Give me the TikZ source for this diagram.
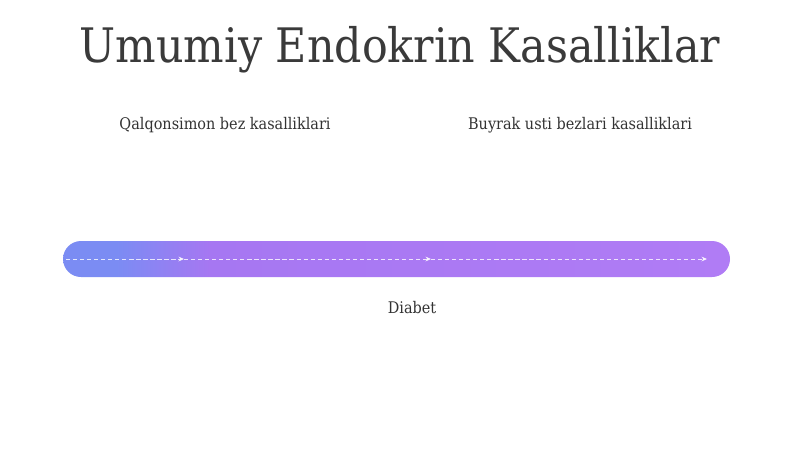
\documentclass[tikz,border=0pt]{standalone}
\usepackage{fontspec}
\setmainfont{DejaVu Serif Condensed}
\usetikzlibrary{arrows.meta}
\definecolor{barblue}{HTML}{7B8CF3}
\definecolor{barviolet}{HTML}{A677F2}
\definecolor{barpurple}{HTML}{B07CF5}
\definecolor{inktitle}{HTML}{3A3A3A}
\definecolor{inklabel}{HTML}{333333}
\pgfdeclarehorizontalshading{barshade}{100bp}{color(0bp)=(barblue); color(29bp)=(barblue); color(36bp)=(barviolet); color(75bp)=(barpurple); color(100bp)=(barpurple)}
\begin{document}
\begin{tikzpicture}[
        x=0.025cm, y=-0.025cm,
        titlen/.style={text=inktitle, font=\fontsize{33.8}{40}\selectfont, anchor=base, inner sep=0pt},
        labeln/.style={text=inklabel, font=\fontsize{11.4}{14}\selectfont, anchor=base, inner sep=0pt},
        flow/.style={white, opacity=0.8, line width=0.5pt, densely dashed, -{Stealth[length=4pt,width=3.5pt]}},
    ]
    \useasboundingbox (0,0) rectangle (800,449);
    \node[titlen](title) at (400,62){Umumiy Endokrin Kasalliklar};
    \node[labeln](thyroid) at (225,129){Qalqonsimon bez kasalliklari};
    \node[labeln](adrenal) at (580,129){Buyrak usti bezlari kasalliklari};
    \shade[shading=barshade, rounded corners=12.8pt] (63,241) rectangle (730,277);
    \node[labeln](diabet) at (412,313){Diabet};
    \coordinate (p0) at (66,259);
    \coordinate (p1) at (184,259);
    \coordinate (p2) at (431,259);
    \coordinate (p3) at (707,259);
    \draw[flow] (p0) -- (p1);
    \draw[flow] (p1) -- (p2);
    \draw[flow] (p2) -- (p3);
\end{tikzpicture}
\end{document}
